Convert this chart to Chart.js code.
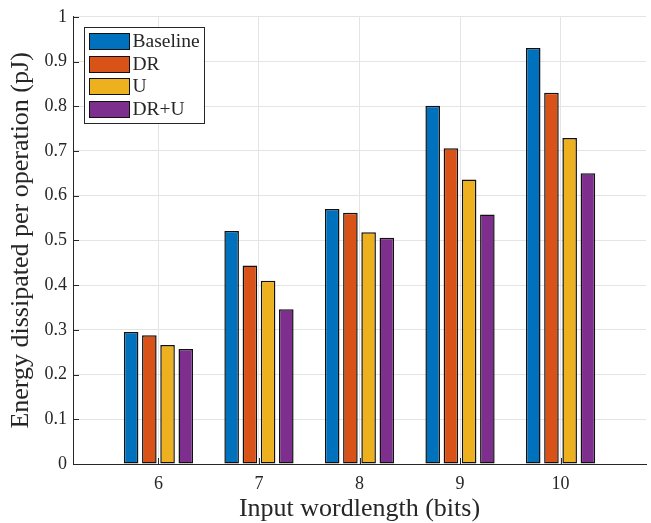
<!DOCTYPE html>
<html lang="en">
<head>
<meta charset="UTF-8">
<title>Energy dissipated per operation</title>
<style>
  html, body { margin: 0; padding: 0; background: #fff; }
  #wrap { width: 651px; height: 523px; }
</style>
</head>
<body>
<div id="wrap"><canvas id="chart" width="651" height="523"></canvas></div>
<script src="https://cdn.jsdelivr.net/npm/chart.js"></script>
<script>
// values
const wordlengths = [6, 7, 8, 9, 10];
const seriesNames = ['Baseline', 'DR', 'U', 'DR+U'];
const baseline = [0.295, 0.521, 0.570, 0.801, 0.930];
const dr = [0.288, 0.444, 0.562, 0.706, 0.830];
const u = [0.266, 0.410, 0.518, 0.636, 0.729];
const drU = [0.257, 0.346, 0.506, 0.558, 0.650];
const yTicks = [0, 0.1, 0.2, 0.3, 0.4, 0.5, 0.6, 0.7, 0.8, 0.9, 1];

const colors = ['#0072BD', '#D95319', '#EDB120', '#7E2F8E'];
const serif = "'Liberation Serif', 'DejaVu Serif', serif";
const axisColor = '#262626';
const gridColor = '#e4e4e4';

const series = [baseline, dr, u, drU];
const datasets = series.map((vals, k) => ({
  label: seriesNames[k],
  data: wordlengths.map((w, i) => ({ x: w, y: vals[i] })),
  backgroundColor: colors[k],
  borderColor: '#111',
  borderWidth: 1.5,
  borderSkipped: false,
  categoryPercentage: 0.725,
  barPercentage: 0.8
}));

// MATLAB style ticks pointing into the axes
const inwardTicks = {
  id: 'inwardTicks',
  afterDatasetsDraw(chart) {
    const { ctx, chartArea: a, scales: { x, y } } = chart;
    ctx.save();
    ctx.strokeStyle = axisColor;
    ctx.lineWidth = 1;
    ctx.beginPath();
    wordlengths.forEach(v => {
      const px = Math.round(x.getPixelForValue(v)) + 0.5;
      ctx.moveTo(px, a.bottom);
      ctx.lineTo(px, a.bottom - 6);
    });
    yTicks.forEach(v => {
      const py = Math.round(y.getPixelForValue(v)) + 0.5;
      ctx.moveTo(a.left, py);
      ctx.lineTo(a.left + 6, py);
    });
    ctx.stroke();
    ctx.restore();
  }
};

// boxed legend inside the axes, top left
const boxLegend = {
  id: 'boxLegend',
  afterDraw(chart) {
    const { ctx, chartArea: a } = chart;
    const bx = Math.round(a.left + 11) + 0.5, by = Math.round(a.top + 10) + 0.5;
    const bw = 120, bh = 96;
    ctx.save();
    ctx.fillStyle = '#fff';
    ctx.fillRect(bx, by, bw, bh);
    ctx.strokeStyle = axisColor;
    ctx.lineWidth = 1;
    ctx.strokeRect(bx, by, bw, bh);
    ctx.font = '19.5px ' + serif;
    ctx.textBaseline = 'middle';
    ctx.textAlign = 'left';
    chart.data.datasets.forEach((ds, i) => {
      const sy = Math.round(by + 5.5 + i * 22.7);
      ctx.fillStyle = ds.backgroundColor;
      ctx.fillRect(bx + 5, sy, 40, 16);
      ctx.strokeStyle = '#111';
      ctx.strokeRect(bx + 5, sy + 0.5, 40, 16);
      ctx.fillStyle = axisColor;
      ctx.fillText(ds.label, bx + 48, sy + 9);
    });
    ctx.restore();
  }
};

new Chart(document.getElementById('chart'), {
  type: 'bar',
  data: { datasets },
  options: {
    responsive: false,
    animation: false,
    devicePixelRatio: 1,
    layout: { padding: { top: 13, right: 5, left: 0, bottom: 0 } },
    plugins: {
      legend: { display: false },
      tooltip: { enabled: false }
    },
    scales: {
      x: {
        type: 'linear',
        min: 5.15,
        max: 10.85,
        offset: false,
        afterBuildTicks: s => { s.ticks = wordlengths.map(v => ({ value: v })); },
        afterFit: s => { s.height = 59; },
        grid: { offset: false, color: gridColor, drawTicks: false },
        border: { color: axisColor },
        ticks: {
          padding: 9,
          color: axisColor,
          font: { family: serif, size: 18 },
          callback: v => String(v)
        },
        title: {
          display: true,
          text: 'Input wordlength (bits)',
          color: axisColor,
          font: { family: serif, size: 26, lineHeight: 1 },
          padding: { top: 0, bottom: 1 }
        }
      },
      y: {
        min: 0,
        max: 1,
        afterBuildTicks: s => { s.ticks = yTicks.map(v => ({ value: v })); },
        afterFit: s => { s.width = 73; },
        grid: { color: gridColor, drawTicks: false },
        border: { color: axisColor },
        ticks: {
          padding: 6,
          color: axisColor,
          font: { family: serif, size: 18 },
          callback: v => String(+v.toFixed(1))
        },
        title: {
          display: true,
          text: 'Energy dissipated per operation (pJ)',
          color: axisColor,
          font: { family: serif, size: 26, lineHeight: 1 },
          padding: { top: 8, bottom: 0 }
        }
      }
    }
  },
  plugins: [inwardTicks, boxLegend]
});
</script>
</body>
</html>
